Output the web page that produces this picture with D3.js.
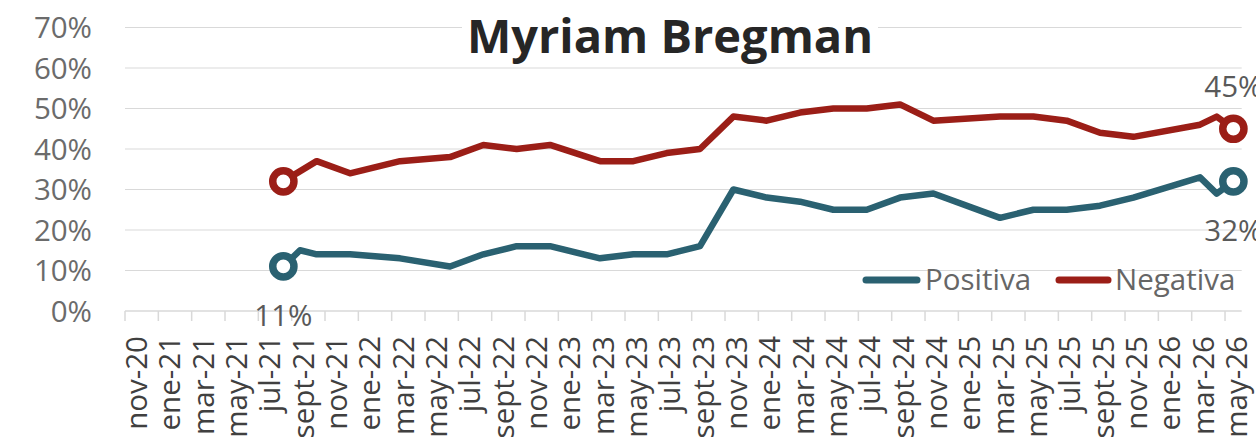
<!DOCTYPE html>
<html>
<head>
<meta charset="utf-8">
<script src="https://cdn.jsdelivr.net/npm/d3@7/dist/d3.min.js"></script>
<style>
  html, body { margin: 0; padding: 0; background: #ffffff; }
  svg { display: block; font-family: "Open Sans", "Noto Sans", sans-serif; }
</style>
</head>
<body>
<svg id="chart" width="1256" height="446"></svg>
<script>
// Survey months (YYYY-MM) and image ratings, in percent
const surveyMonths = [
  "2021-08", "2021-09", "2021-10", "2021-12", "2022-03", "2022-06", "2022-08",
  "2022-10", "2022-12", "2023-03", "2023-05", "2023-07", "2023-09", "2023-11",
  "2024-01", "2024-03", "2024-05", "2024-07", "2024-09", "2024-11", "2025-03",
  "2025-05", "2025-07", "2025-09", "2025-11", "2026-03", "2026-04", "2026-05"
];
const positiva = [
  11, 15, 14, 14, 13, 11, 14,
  16, 16, 13, 14, 14, 16, 30,
  28, 27, 25, 25, 28, 29, 23,
  25, 25, 26, 28, 33, 29, 32
];
const negativa = [
  32, null, 37, 34, 37, 38, 41,
  40, 41, 37, 37, 39, 40, 48,
  47, 49, 50, 50, 51, 47, 48,
  48, 47, 44, 43, 46, 48, 45
];

// Axis range (monthly slots) and the bimonthly tick labels
const firstMonth = "2020-11";
const lastMonth = "2026-05";
const tickLabels = [
  "nov-20", "ene-21", "mar-21", "may-21", "jul-21", "sept-21",
  "nov-21", "ene-22", "mar-22", "may-22", "jul-22", "sept-22",
  "nov-22", "ene-23", "mar-23", "may-23", "jul-23", "sept-23",
  "nov-23", "ene-24", "mar-24", "may-24", "jul-24", "sept-24",
  "nov-24", "ene-25", "mar-25", "may-25", "jul-25", "sept-25",
  "nov-25", "ene-26", "mar-26", "may-26"
];
const yTicks = [0, 10, 20, 30, 40, 50, 60, 70];

const seriesNames = ["Positiva", "Negativa"];
const colors = { Positiva: "#2a6171", Negativa: "#9b1e17" };

const svg = d3.select("#chart");

const parse = d3.utcParse("%Y-%m");
const fmt = d3.utcFormat("%Y-%m");
const allMonths = d3.utcMonth.range(parse(firstMonth), d3.utcMonth.offset(parse(lastMonth), 1)).map(fmt);

const x = d3.scaleBand().domain(allMonths).range([125, 1241.7]).paddingInner(0).paddingOuter(0);
const y = d3.scaleLinear().domain([0, 70]).range([311, 27.5]);
const cx = m => x(m) + x.bandwidth() / 2;

// horizontal gridlines
svg.append("g")
  .selectAll("line")
  .data(yTicks.filter(t => t > 0))
  .join("line")
  .attr("x1", x.range()[0]).attr("x2", x.range()[1])
  .attr("y1", d => y(d)).attr("y2", d => y(d))
  .attr("stroke", "#d9d9d9").attr("stroke-width", 1);

// y tick labels
svg.append("g")
  .selectAll("text")
  .data(yTicks)
  .join("text")
  .attr("x", 92)
  .attr("y", d => y(d))
  .attr("dy", "0.36em")
  .attr("text-anchor", "end")
  .attr("font-size", 29.5)
  .attr("fill", "#6b6b6b")
  .text(d => d + "%");

// x axis line and ticks
const axisG = svg.append("g");
axisG.append("line")
  .attr("x1", x.range()[0]).attr("x2", x.range()[1])
  .attr("y1", y(0)).attr("y2", y(0))
  .attr("stroke", "#d9d9d9").attr("stroke-width", 1.5);

const labelMonths = tickLabels.map((_, i) => allMonths[i * 2]);
axisG.selectAll("line.tick")
  .data(labelMonths)
  .join("line")
  .attr("class", "tick")
  .attr("x1", d => x(d)).attr("x2", d => x(d))
  .attr("y1", y(0)).attr("y2", y(0) + 10)
  .attr("stroke", "#d9d9d9").attr("stroke-width", 1.5);

axisG.selectAll("text")
  .data(tickLabels)
  .join("text")
  .attr("transform", (d, i) => `translate(${cx(labelMonths[i])},336) rotate(-90)`)
  .attr("dy", "0.46em")
  .attr("text-anchor", "end")
  .attr("font-size", 29.5)
  .attr("fill", "#404040")
  .text(d => d);

// title with white backing over the top gridline
svg.append("rect")
  .attr("x", 462).attr("y", 4).attr("width", 416).attr("height", 58)
  .attr("fill", "#ffffff");
svg.append("text")
  .attr("x", 670).attr("y", 53)
  .attr("text-anchor", "middle")
  .attr("font-size", 47)
  .attr("font-weight", 700)
  .attr("fill", "#262626")
  .text("Myriam Bregman");

// series lines
const series = seriesNames.map(name => ({
  name,
  values: surveyMonths
    .map((m, i) => ({ m, v: (name === "Positiva" ? positiva : negativa)[i] }))
    .filter(d => d.v != null)
}));

const line = d3.line().x(d => cx(d.m)).y(d => y(d.v));

svg.append("g")
  .selectAll("path")
  .data(series)
  .join("path")
  .attr("d", d => line(d.values))
  .attr("fill", "none")
  .attr("stroke", d => colors[d.name])
  .attr("stroke-width", 6.5)
  .attr("stroke-linejoin", "round")
  .attr("stroke-linecap", "round");

// end-point markers
const ends = series.flatMap(s => [
  { name: s.name, ...s.values[0], first: true },
  { name: s.name, ...s.values[s.values.length - 1], first: false }
]);

svg.append("g")
  .selectAll("circle")
  .data(ends)
  .join("circle")
  .attr("cx", d => cx(d.m))
  .attr("cy", d => y(d.v))
  .attr("r", 10.6)
  .attr("fill", "#ffffff")
  .attr("stroke", d => colors[d.name])
  .attr("stroke-width", 7.5);

// value labels: first positive, last of each series
const labelled = [
  { ...ends.find(e => e.name === "Positiva" && e.first), pos: "below" },
  { ...ends.find(e => e.name === "Positiva" && !e.first), pos: "below" },
  { ...ends.find(e => e.name === "Negativa" && !e.first), pos: "above" }
];
svg.append("g")
  .selectAll("text")
  .data(labelled)
  .join("text")
  .attr("x", d => cx(d.m))
  .attr("y", d => y(d.v) + (d.pos === "below" ? 60 : -32))
  .attr("text-anchor", "middle")
  .attr("font-size", 29.5)
  .attr("fill", "#595959")
  .text(d => d.v + "%");

// legend
const legend = [
  { name: "Positiva", x1: 866, x2: 917, tx: 925 },
  { name: "Negativa", x1: 1059, x2: 1108, tx: 1115 }
];
const lg = svg.append("g");
lg.selectAll("line")
  .data(legend)
  .join("line")
  .attr("x1", d => d.x1).attr("x2", d => d.x2)
  .attr("y1", 280).attr("y2", 280)
  .attr("stroke", d => colors[d.name])
  .attr("stroke-width", 7)
  .attr("stroke-linecap", "round");
lg.selectAll("text")
  .data(legend)
  .join("text")
  .attr("x", d => d.tx)
  .attr("y", 290)
  .attr("font-size", 29.5)
  .attr("fill", "#666666")
  .text(d => d.name);
</script>
</body>
</html>
